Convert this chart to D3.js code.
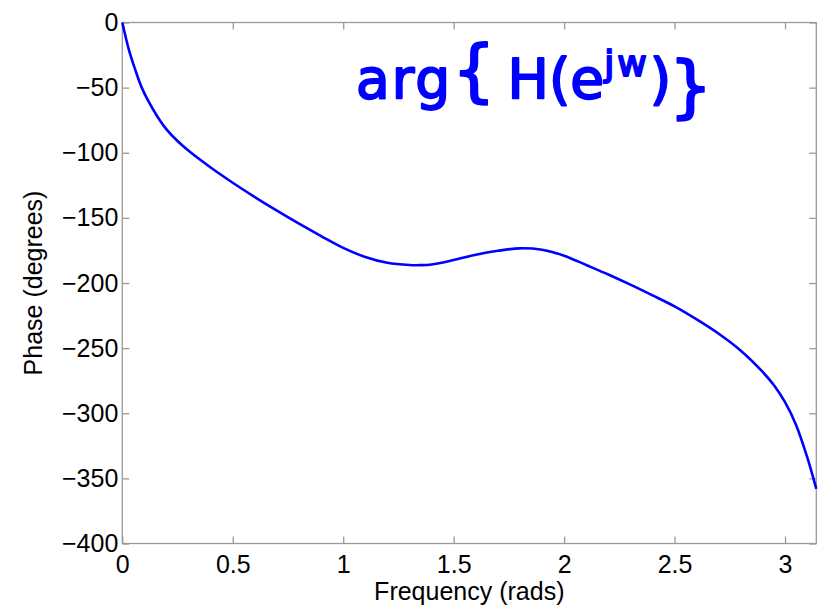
<!DOCTYPE html>
<html>
<head>
<meta charset="utf-8">
<script src="https://cdn.jsdelivr.net/npm/d3@7"></script>
<style>
  html, body { margin: 0; padding: 0; background: #fff; }
  svg { display: block; }
</style>
</head>
<body>
<svg id="chart" width="825" height="616"></svg>
<script>
// Data
const frequency = [0, 0.03, 0.06, 0.088, 0.12, 0.16, 0.2, 0.25, 0.307, 0.4, 0.5, 0.6, 0.7, 0.8, 0.9, 1.0, 1.1, 1.2, 1.3, 1.35, 1.4, 1.5, 1.6, 1.7, 1.8, 1.9, 2.0, 2.1, 2.2, 2.3, 2.4, 2.5, 2.6, 2.7, 2.8, 2.9, 2.95, 3.0, 3.05, 3.1, 3.1416];
const phase     = [0, -21, -37, -50, -61, -72.5, -82, -91, -99.5, -111.3, -123, -134, -144.5, -154.5, -164, -173, -180, -184.5, -186.2, -186.3, -185.8, -182.4, -178.3, -175.3, -173.4, -174.5, -179, -186.2, -193.5, -201.3, -209.5, -218, -228, -239, -252, -268.5, -278.5, -291.5, -309, -333.5, -358];
const xTicks = [0, 0.5, 1, 1.5, 2, 2.5, 3];
const yTicks = [0, -50, -100, -150, -200, -250, -300, -350, -400];
const xLabel = "Frequency (rads)";
const yLabel = "Phase (degrees)";

const svg = d3.select("#chart");
const m = {left: 122.3, top: 22.5, right: 816.3, bottom: 543.5};
const x = d3.scaleLinear().domain([0, Math.PI]).range([m.left, m.right]);
const y = d3.scaleLinear().domain([-400, 0]).range([m.bottom, m.top]);
const axisColor = "#9a9a9a";
const font = "'Liberation Sans', Arial, Helvetica, sans-serif";
const fs = 25;

function style(g) {
  g.select(".domain").remove();
  g.selectAll(".tick line").attr("stroke", axisColor).attr("stroke-width", 1.3);
  g.selectAll(".tick text").attr("fill", "#000").style("font-family", font).style("font-size", fs + "px");
}

svg.append("g").attr("transform", `translate(0,${m.bottom})`)
  .call(d3.axisBottom(x).tickValues(xTicks).tickFormat(d => String(d)).tickSizeInner(-7).tickSizeOuter(0).tickPadding(12))
  .call(style);
svg.append("g").attr("transform", `translate(0,${m.top})`)
  .call(d3.axisTop(x).tickValues(xTicks).tickFormat("").tickSizeInner(-7).tickSizeOuter(0))
  .call(style);
svg.append("g").attr("transform", `translate(${m.left},0)`)
  .call(d3.axisLeft(y).tickValues(yTicks).tickFormat(d3.format("d")).tickSizeInner(-7).tickSizeOuter(0).tickPadding(4))
  .call(style);
svg.append("g").attr("transform", `translate(${m.right},0)`)
  .call(d3.axisRight(y).tickValues(yTicks).tickFormat("").tickSizeInner(-7).tickSizeOuter(0))
  .call(style);

svg.append("rect")
  .attr("x", m.left).attr("y", m.top)
  .attr("width", m.right - m.left).attr("height", m.bottom - m.top)
  .attr("fill", "none").attr("stroke", axisColor).attr("stroke-width", 1.3);

const data = frequency.map((f, i) => ({f, p: phase[i]}));
svg.append("path")
  .datum(data)
  .attr("fill", "none")
  .attr("stroke", "#0000ff")
  .attr("stroke-width", 2.6)
  .attr("d", d3.line().x(d => x(d.f)).y(d => y(d.p)).curve(d3.curveCatmullRom.alpha(0.5)));

svg.append("text")
  .attr("x", (m.left + m.right) / 2).attr("y", 600)
  .attr("text-anchor", "middle")
  .style("font-family", font).style("font-size", fs + "px")
  .text(xLabel);

svg.append("text")
  .attr("transform", `translate(42,${(m.top + m.bottom) / 2}) rotate(-90)`)
  .attr("text-anchor", "middle")
  .style("font-family", font).style("font-size", fs + "px")
  .text(yLabel);

// handwritten-style annotation
const ann = svg.append("text")
  .attr("x", 356).attr("y", 98)
  .attr("fill", "#0000ff").attr("stroke", "#0000ff").attr("stroke-width", 2)
  .attr("stroke-linejoin", "round")
  .style("font-family", "'DejaVu Sans', sans-serif")
  .style("font-size", "55px");
ann.append("tspan").attr("letter-spacing", 2).text("arg");
ann.append("tspan").attr("dy", -4).style("font-size", "68px").text("{");
ann.append("tspan").attr("dx", 12).attr("dy", 4).text("H(e");
ann.append("tspan").attr("dy", -22).style("font-size", "36px").attr("letter-spacing", 3).text("jw");
ann.append("tspan").attr("dy", 22).text(")");
ann.append("tspan").attr("dx", -2).attr("dy", 12).style("font-size", "68px").text("}");
</script>
</body>
</html>
